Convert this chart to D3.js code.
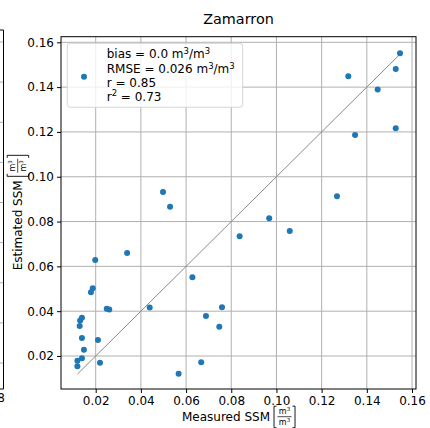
<!DOCTYPE html>
<html>
<head>
<meta charset="utf-8">
<script src="https://cdn.jsdelivr.net/npm/d3@7"></script>
<style>
  html, body { margin: 0; padding: 0; background: #fff; }
  svg { display: block; font-family: "DejaVu Sans", sans-serif; }
</style>
</head>
<body>
<svg id="chart" width="430" height="428"></svg>
<script>
// ---- data ----
const title = "Zamarron";
const measured = [
  0.0339, 0.0198, 0.0187, 0.0179, 0.0249, 0.0260, 0.0439, 0.0139, 0.0131, 0.0129,
  0.0139, 0.0210, 0.0148, 0.0139, 0.0119, 0.0119, 0.0219,
  0.0498, 0.0529, 0.0968, 0.1059, 0.0837, 0.0628, 0.0759, 0.0688, 0.0747, 0.0667, 0.0567,
  0.1547, 0.1528, 0.1318, 0.1448, 0.1528, 0.1348, 0.1268
];
const estimated = [
  0.0660, 0.0628, 0.0502, 0.0484, 0.0411, 0.0408, 0.0416, 0.0371, 0.0358, 0.0334,
  0.0280, 0.0271, 0.0228, 0.0190, 0.0179, 0.0154, 0.0170,
  0.0932, 0.0866, 0.0815, 0.0758, 0.0734, 0.0551, 0.0417, 0.0379, 0.0331, 0.0172, 0.0121,
  0.1551, 0.1481, 0.1448, 0.1389, 0.1216, 0.1186, 0.0913
];
const xTicks = [0.02, 0.04, 0.06, 0.08, 0.10, 0.12, 0.14, 0.16];
const yTicks = [0.02, 0.04, 0.06, 0.08, 0.10, 0.12, 0.14, 0.16];
const statLabels = ["bias", "RMSE", "r", "r"];
const statValues = ["0.0", "0.026", "0.85", "0.73"];
const neighbourTicks = [0.02, 0.04, 0.06, 0.08, 0.10, 0.12, 0.14, 0.16, 0.18];

// ---- layout ----
const W = 430, H = 428;
const L = 61, R = 416, T = 36.7, B = 389;
const svg = d3.select("#chart");

const x = d3.scaleLinear().domain([0.00464, 0.16177]).range([L, R]);
const y = d3.scaleLinear().domain([0.00527, 0.1625]).range([B, T]);

// ---- neighbouring panel (cut off at left edge) ----
const yN = d3.scaleLinear().domain([0.02, 0.18]).range([363, 42]);
const nb = svg.append("g");
nb.selectAll("line.g").data(neighbourTicks).join("line")
  .attr("x1", -10).attr("x2", 3.5)
  .attr("y1", d => yN(d)).attr("y2", d => yN(d))
  .attr("stroke", "#b0b0b0").attr("stroke-width", 1);
nb.append("path").attr("d", `M-10,30H3.5V389H-10`).attr("fill", "none")
  .attr("stroke", "#000").attr("stroke-width", 1);
nb.append("text").attr("x", 5).attr("y", 401.5).attr("text-anchor", "end")
  .attr("font-size", 12).attr("fill", "#000").text("0.18");

// ---- grid ----
const grid = svg.append("g");
grid.selectAll("line.gx").data(xTicks).join("line")
  .attr("x1", d => x(d)).attr("x2", d => x(d)).attr("y1", T).attr("y2", B)
  .attr("stroke", "#b0b0b0").attr("stroke-width", 1);
grid.selectAll("line.gy").data(yTicks).join("line")
  .attr("y1", d => y(d)).attr("y2", d => y(d)).attr("x1", L).attr("x2", R)
  .attr("stroke", "#b0b0b0").attr("stroke-width", 1);

// ---- axes ----
const fmt = d3.format(".2f");
const xAxis = svg.append("g").attr("transform", `translate(0,${B})`)
  .call(d3.axisBottom(x).tickValues(xTicks).tickFormat(fmt).tickSize(4).tickPadding(3));
const yAxis = svg.append("g").attr("transform", `translate(${L},0)`)
  .call(d3.axisLeft(y).tickValues(yTicks).tickFormat(fmt).tickSize(4).tickPadding(3));
[xAxis, yAxis].forEach(a => {
  a.select(".domain").remove();
  a.selectAll("text").attr("font-size", 12).attr("font-family", "DejaVu Sans").attr("fill", "#000");
  a.selectAll("line").attr("stroke", "#000").attr("stroke-width", 1);
});

// ---- 1:1 line ----
const all = measured.concat(estimated);
const lo = d3.min(all), hi = d3.max(all);
svg.append("line")
  .attr("x1", x(lo)).attr("y1", y(lo)).attr("x2", x(hi)).attr("y2", y(hi))
  .attr("stroke", "#8a8a8a").attr("stroke-width", 1);

// ---- points ----
svg.append("g").selectAll("circle").data(measured.map((m, i) => [m, estimated[i]])).join("circle")
  .attr("cx", d => x(d[0])).attr("cy", d => y(d[1])).attr("r", 3)
  .attr("fill", "#1f77b4");

// ---- frame ----
svg.append("rect").attr("x", L).attr("y", T).attr("width", R - L).attr("height", B - T)
  .attr("fill", "none").attr("stroke", "#000").attr("stroke-width", 1);

// ---- title ----
svg.append("text").attr("x", (L + R) / 2).attr("y", 24).attr("text-anchor", "middle")
  .attr("font-size", 14.4).attr("fill", "#000").text(title);

// ---- legend ----
const lg = svg.append("g");
lg.append("rect").attr("x", 67.3).attr("y", 43.3).attr("width", 175.4).attr("height", 64)
  .attr("rx", 3).attr("fill", "#fff").attr("fill-opacity", 0.8)
  .attr("stroke", "#d5d5d5").attr("stroke-width", 1);
lg.append("circle").attr("cx", 84).attr("cy", 76.7).attr("r", 3).attr("fill", "#1f77b4");
const baselines = [58.3, 73.3, 86.9, 100.9];
statLabels.forEach((lab, i) => {
  const t = lg.append("text").attr("x", 106.7).attr("y", baselines[i])
    .attr("font-size", 12).attr("fill", "#000");
  t.append("tspan").text(lab);
  if (i === 3) {
    t.append("tspan").attr("font-size", 8.5).attr("dy", -4.5).text("2");
    t.append("tspan").attr("dy", 4.5).text(" = " + statValues[i]);
  } else if (i < 2) {
    t.append("tspan").text(" = " + statValues[i] + " m");
    t.append("tspan").attr("font-size", 8.5).attr("dy", -4.5).text("3");
    t.append("tspan").attr("dy", 4.5).text("/m");
    t.append("tspan").attr("font-size", 8.5).attr("dy", -4.5).text("3");
  } else {
    t.append("tspan").text(" = " + statValues[i]);
  }
});

// ---- axis labels with bracketed unit fraction ----
function unitLabel(g, main) {
  const t = g.append("text").attr("x", 0).attr("y", 0).attr("font-size", 12).attr("fill", "#000").text(main);
  const w = t.node().getComputedTextLength();
  const bx = w + 4;
  const fw = 15;
  const bracket = (x0, dir) => `M${x0 + dir * 2.5},-14.5H${x0}V7H${x0 + dir * 2.5}`;
  g.append("path").attr("d", bracket(bx, 1)).attr("fill", "none").attr("stroke", "#000").attr("stroke-width", 0.9);
  g.append("path").attr("d", bracket(bx + fw + 6, -1)).attr("fill", "none").attr("stroke", "#000").attr("stroke-width", 0.9);
  const cx = bx + 3 + fw / 2;
  const num = g.append("text").attr("x", cx).attr("y", -6.5).attr("text-anchor", "middle").attr("font-size", 8).attr("fill", "#000");
  num.append("tspan").text("m");
  num.append("tspan").attr("font-size", 5.5).attr("dy", -3).text("3");
  g.append("line").attr("x1", bx + 3.5).attr("x2", bx + fw + 2.5).attr("y1", -4).attr("y2", -4)
    .attr("stroke", "#000").attr("stroke-width", 0.7);
  const den = g.append("text").attr("x", cx).attr("y", 4.5).attr("text-anchor", "middle").attr("font-size", 8).attr("fill", "#000");
  den.append("tspan").text("m");
  den.append("tspan").attr("font-size", 5.5).attr("dy", -3).text("3");
  return bx + fw + 6;
}
const xl = svg.append("g");
const xlw = unitLabel(xl, "Measured SSM");
xl.attr("transform", `translate(${(L + R) / 2 - xlw / 2},420.7)`);

const yl = svg.append("g");
const ylw = unitLabel(yl, "Estimated SSM");
yl.attr("transform", `translate(21.7,${(T + B) / 2 + ylw / 2}) rotate(-90)`);
</script>
</body>
</html>
